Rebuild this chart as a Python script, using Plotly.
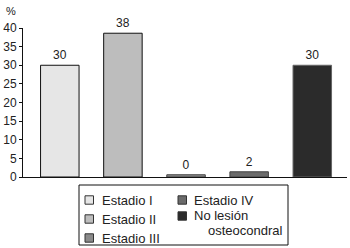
import plotly.graph_objects as go

categories = ["Estadio I", "Estadio II", "Estadio III", "Estadio IV", "No lesión osteocondral"]
values = [30, 38.6, 0.6, 1.4, 30]
value_labels = ["30", "38", "0", "2", "30"]
y_ticks = [0, 5, 10, 15, 20, 25, 30, 35, 40]
legend_labels = ["Estadio I", "Estadio II", "Estadio III", "Estadio IV", ["No lesión", "osteocondral"]]

fills = ["#e6e6e6", "#bdbdbd", "#8a8a8a", "#6b6b6b", "#2b2b2b"]
outlines = ["#111111", "#111111", "#444444", "#444444", "#666666"]

W, H = 350, 248
ML, MR, MT, MB = 23, 3, 28, 71
PW, PH = W - ML - MR, H - MT - MB

def px(x):
    return (x - ML) / PW

def py(y):
    return (H - MB - y) / PH

font = "Liberation Sans, Arial, sans-serif"

fig = go.Figure()
fig.add_trace(go.Bar(
    x=categories, y=values, text=value_labels, textposition="outside",
    textfont=dict(size=12, color="#222222", family=font),
    marker=dict(color=fills, line=dict(color=outlines, width=1)),
    cliponaxis=False, showlegend=False, hoverinfo="skip",
))

shapes = []
annotations = []
# legend box
shapes.append(dict(type="rect", xref="paper", yref="paper",
                   x0=px(79), x1=px(288), y0=py(245), y1=py(185),
                   line=dict(color="#111111", width=1), fillcolor="rgba(0,0,0,0)"))
# legend entries (pixel positions)
entry_pos = [(85, 200), (85, 219), (85, 238), (178, 200), (178, 216)]
text_pos = [(101, 200), (101, 219), (101, 238), (193, 200), (193, 215)]
for i, lab in enumerate(legend_labels):
    sx, sy = entry_pos[i]
    shapes.append(dict(type="rect", xref="paper", yref="paper",
                       x0=px(sx), x1=px(sx + 8.5), y0=py(sy + 4.2), y1=py(sy - 4.2),
                       line=dict(color="#333333", width=1), fillcolor=fills[i]))
    tx, ty = text_pos[i]
    lines = lab if isinstance(lab, list) else [lab]
    for j, line in enumerate(lines):
        annotations.append(dict(xref="paper", yref="paper",
                                x=px(tx + 14 * j), y=py(ty + 15 * j),
                                xanchor="left", yanchor="middle",
                                text=line, showarrow=False, align="left", borderpad=0,
                                font=dict(size=13, color="#222222", family=font)))

annotations.append(dict(xref="paper", yref="paper", x=px(11), y=py(11),
                        xanchor="center", yanchor="middle", text="%", showarrow=False,
                        font=dict(size=11, color="#222222", family=font)))

fig.update_layout(
    width=W, height=H,
    margin=dict(l=ML, r=MR, t=MT, b=MB),
    plot_bgcolor="white", paper_bgcolor="white",
    bargap=0.39,
    shapes=shapes, annotations=annotations,
    xaxis=dict(range=[-0.583, 4.55], showticklabels=False, ticks="",
               showline=True, linecolor="#111111", linewidth=1, showgrid=False,
               zeroline=False, fixedrange=True),
    yaxis=dict(range=[0, 40], tickvals=y_ticks, ticks="outside", ticklen=3,
               tickcolor="#111111", showline=True, linecolor="#111111", linewidth=1,
               showgrid=False, zeroline=False,
               tickfont=dict(size=12, color="#222222", family=font), fixedrange=True),
    font=dict(family=font),
)

fig.write_html("out.html", config={"displayModeBar": False},
               post_script="document.body.style.margin='0';document.body.style.overflow='hidden';")
